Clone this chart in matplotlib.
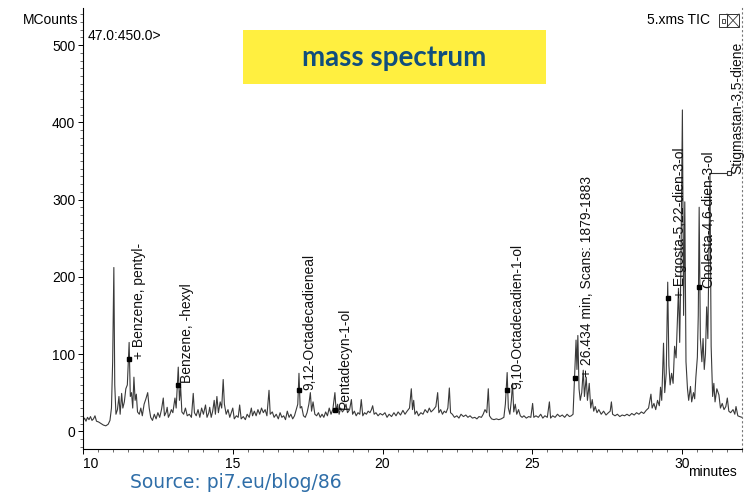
import matplotlib
matplotlib.use('Agg')
import matplotlib.pyplot as plt
from matplotlib.ticker import MultipleLocator
from matplotlib.patches import Rectangle

plt.rcParams['font.family'] = ['Liberation Sans', 'DejaVu Sans']

# TIC trace (retention time in minutes, MCounts)
rt = [10.00, 10.05, 10.10, 10.15, 10.20, 10.25, 10.30, 10.35, 10.40, 10.45,
      10.52, 10.60, 10.68, 10.76, 10.84, 10.90, 10.95, 10.99, 11.03, 11.06,
      11.10, 11.15, 11.20, 11.24, 11.29, 11.33, 11.38, 11.43, 11.48, 11.54,
      11.58, 11.62, 11.66, 11.70, 11.74, 11.78, 11.82, 11.88, 11.93, 11.98,
      12.04, 12.10, 12.16, 12.21, 12.26, 12.32, 12.38, 12.44, 12.50, 12.56,
      12.62, 12.68, 12.72, 12.78, 12.81, 12.85, 12.90, 12.95, 13.00, 13.07,
      13.11, 13.18, 13.22, 13.26, 13.30, 13.36, 13.42, 13.48, 13.55, 13.62,
      13.68, 13.72, 13.78, 13.84, 13.90, 13.96, 14.02, 14.09, 14.14, 14.20,
      14.23, 14.28, 14.33, 14.38, 14.42, 14.47, 14.52, 14.58, 14.63, 14.68,
      14.72, 14.78, 14.84, 14.90, 14.95, 15.00, 15.05, 15.12, 15.18, 15.23,
      15.28, 15.35, 15.42, 15.48, 15.55, 15.62, 15.66, 15.72, 15.78, 15.84,
      15.90, 15.96, 16.02, 16.08, 16.14, 16.21, 16.25, 16.32, 16.38, 16.45,
      16.52, 16.58, 16.64, 16.70, 16.76, 16.82, 16.88, 16.94, 17.00, 17.06,
      17.12, 17.17, 17.21, 17.25, 17.30, 17.36, 17.42, 17.48, 17.54, 17.59,
      17.63, 17.68, 17.74, 17.80, 17.86, 17.92, 17.98, 18.04, 18.10, 18.16,
      18.22, 18.28, 18.34, 18.41, 18.45, 18.50, 18.55, 18.60, 18.66, 18.72,
      18.78, 18.83, 18.90, 18.96, 19.00, 19.06, 19.12, 19.18, 19.24, 19.29,
      19.34, 19.40, 19.46, 19.52, 19.58, 19.63, 19.67, 19.72, 19.78, 19.85,
      19.92, 20.00, 20.08, 20.15, 20.22, 20.30, 20.38, 20.45, 20.52, 20.60,
      20.68, 20.75, 20.82, 20.90, 20.96, 21.00, 21.04, 21.08, 21.14, 21.20,
      21.28, 21.35, 21.42, 21.50, 21.56, 21.62, 21.70, 21.78, 21.84, 21.88,
      21.94, 22.00, 22.06, 22.12, 22.18, 22.23, 22.27, 22.33, 22.40, 22.48,
      22.55, 22.62, 22.70, 22.78, 22.85, 22.92, 23.00, 23.08, 23.15, 23.22,
      23.30, 23.36, 23.42, 23.48, 23.53, 23.57, 23.64, 23.72, 23.80, 23.88,
      23.96, 24.05, 24.10, 24.16, 24.20, 24.25, 24.30, 24.34, 24.38, 24.43,
      24.48, 24.54, 24.60, 24.66, 24.72, 24.80, 24.88, 24.95, 25.01, 25.05,
      25.12, 25.20, 25.28, 25.35, 25.42, 25.50, 25.57, 25.61, 25.68, 25.76,
      25.84, 25.92, 26.00, 26.08, 26.16, 26.24, 26.30, 26.36, 26.40, 26.46,
      26.49, 26.52, 26.56, 26.60, 26.65, 26.70, 26.74, 26.80, 26.84, 26.90,
      26.95, 27.00, 27.05, 27.10, 27.16, 27.22, 27.30, 27.38, 27.46, 27.54,
      27.60, 27.64, 27.68, 27.76, 27.84, 27.92, 28.00, 28.08, 28.16, 28.24,
      28.32, 28.40, 28.48, 28.56, 28.64, 28.72, 28.80, 28.88, 28.96, 29.00,
      29.06, 29.12, 29.18, 29.24, 29.28, 29.32, 29.38, 29.42, 29.47, 29.52,
      29.56, 29.60, 29.65, 29.70, 29.75, 29.80, 29.85, 29.88, 29.92, 29.96,
      30.01, 30.05, 30.09, 30.13, 30.18, 30.22, 30.28, 30.32, 30.38, 30.42,
      30.46, 30.51, 30.54, 30.57, 30.61, 30.66, 30.70, 30.74, 30.78, 30.82,
      30.86, 30.93, 30.97, 31.02, 31.06, 31.10, 31.16, 31.23, 31.28, 31.34,
      31.40, 31.46, 31.51, 31.56, 31.62, 31.70, 31.76, 31.80, 31.86, 31.92,
      32.00]
tic = [14, 17, 13, 18, 15, 19, 14, 16, 20, 13,
       12, 10, 8, 7, 9, 14, 30, 90, 212, 60,
       22, 28, 45, 22, 49, 30, 38, 55, 60, 115,
       45, 50, 30, 70, 40, 48, 25, 22, 30, 20,
       35, 42, 50, 30, 18, 14, 22, 16, 24, 18,
       28, 43, 20, 25, 31, 18, 22, 28, 24, 43,
       30, 83, 40, 57, 25, 22, 30, 20, 22, 18,
       49, 24, 20, 28, 18, 30, 22, 34, 18, 24,
       31, 18, 26, 40, 22, 45, 24, 38, 30, 67,
       35, 22, 28, 18, 24, 30, 16, 20, 18, 34,
       16, 19, 15, 22, 18, 30, 20, 26, 20, 28,
       22, 30, 24, 28, 20, 53, 22, 25, 18, 22,
       16, 24, 18, 20, 15, 26, 18, 22, 16, 20,
       28, 35, 75, 30, 32, 20, 18, 24, 35, 50,
       26, 38, 22, 20, 24, 18, 22, 18, 25, 20,
       30, 22, 28, 50, 26, 35, 22, 30, 25, 28,
       35, 24, 28, 41, 22, 26, 20, 24, 22, 41,
       20, 24, 22, 26, 24, 28, 33, 22, 24, 20,
       23, 21, 24, 18, 22, 19, 24, 20, 25, 21,
       27, 22, 26, 30, 55, 28, 40, 22, 26, 20,
       24, 22, 28, 24, 30, 25, 28, 32, 50, 24,
       28, 22, 26, 24, 30, 56, 24, 22, 18, 20,
       17, 22, 19, 21, 18, 20, 17, 18, 16, 19,
       18, 22, 28, 24, 55, 20, 16, 15, 16, 15,
       16, 18, 35, 76, 30, 22, 40, 62, 25, 35,
       22, 28, 20, 18, 20, 17, 19, 18, 36, 18,
       20, 18, 22, 17, 20, 18, 38, 17, 20, 18,
       22, 19, 21, 18, 22, 19, 20, 22, 60, 118,
       80, 124, 55, 40, 50, 79, 45, 70, 40, 62,
       30, 41, 26, 32, 24, 28, 22, 26, 21, 24,
       26, 38, 22, 20, 22, 19, 21, 20, 22, 20,
       23, 21, 24, 22, 25, 23, 27, 30, 48, 30,
       36, 28, 40, 33, 57, 40, 114, 50, 75, 193,
       85, 60, 75, 62, 110, 95, 150, 185, 115, 210,
       416, 150, 297, 90, 55, 40, 58, 38, 50, 42,
       70, 96, 150, 290, 120, 90, 120, 80, 100, 161,
       120, 334, 110, 45, 62, 38, 55, 47, 30, 36,
       28, 32, 43, 26, 24, 28, 22, 32, 20, 19,
       18]

# peak identifications
label_names = ['+ Benzene, pentyl-', 'Benzene, -hexyl', '9,12-Octadecadieneal',
               'Pentadecyn-1-ol', '9,10-Octadecadien-1-ol',
               '+ 26.434 min, Scans: 1879-1883', '+ Ergosta-5,22-dien-3-ol',
               'Cholesta-4,6-dien-3-ol', 'Stigmastan-3,5-diene']
label_rt = [11.87, 13.48, 17.57, 18.75, 24.50, 26.82, 29.93, 30.87, 31.83]
label_y = [94, 62, 54, 29, 55, 70, 173, 186, 333]
marker_rt = [11.54, 13.18, 17.21, 18.41, 24.16, 26.43, 29.54, 30.57]
marker_y = [94, 60, 53, 28, 53, 69, 173, 187]

W, H = 746, 496
fig = plt.figure(figsize=(W / 100, H / 100), dpi=100)
ax = fig.add_axes([83 / W, 47 / H, (742 - 83) / W, (449 - 8) / H])

ax.plot(rt, tic, color='#3a3a3a', lw=0.8)
ax.plot(marker_rt, marker_y, 's', ms=3.2, color='black')

for name, x, y in zip(label_names, label_rt, label_y):
    ax.text(x, y, name, rotation=90, ha='center', va='bottom', fontsize=10,
            color='#111111')

# leader to the last label
ax.plot([30.93, 31.55], [334, 334], color='#333333', lw=0.8)
ax.plot([31.57], [334], 's', ms=3.2, mfc='white', mec='#333333', mew=0.8)

ax.set_xlim(10, 32)
ax.set_ylim(-23, 548)
ax.xaxis.set_minor_locator(MultipleLocator(0.5))
ax.yaxis.set_minor_locator(MultipleLocator(10))
ax.set_yticks([0, 100, 200, 300, 400, 500])
ax.set_xticks([10, 15, 20, 25, 30])
ax.set_xticklabels(['10', '15', '20', '25', '30'])
ax.get_xticklabels()[0].set_horizontalalignment('left')
ax.tick_params(which='major', length=3.5, width=0.7, labelsize=10, pad=2)
ax.tick_params(which='minor', length=2, width=0.6, color='#555555')
ax.spines['top'].set_visible(False)
ax.spines['right'].set_linestyle((0, (1, 3)))
ax.spines['right'].set_color('#777777')
ax.spines['left'].set_linewidth(0.8)
ax.spines['bottom'].set_linewidth(0.8)

fig.text(78 / W, 1 - 20 / H, 'MCounts', ha='right', va='center', fontsize=10)
fig.text(88 / W, 1 - 36 / H, '47.0:450.0>', ha='left', va='center', fontsize=10)
fig.text(737 / W, 1 - 472 / H, 'minutes', ha='right', va='center', fontsize=10)
fig.text(710 / W, 1 - 20 / H, '5.xms TIC', ha='right', va='center', fontsize=10)

# little window buttons at the top right
fig.add_artist(Rectangle((719 / W, 1 - 27 / H), 8 / W, 13 / H, transform=fig.transFigure,
                         fill=False, lw=0.7, ec='#333333'))
fig.add_artist(Rectangle((721.5 / W, 1 - 22.5 / H), 3.5 / W, 4 / H, transform=fig.transFigure,
                         fill=False, lw=0.6, ec='#333333'))
fig.add_artist(Rectangle((727 / W, 1 - 27 / H), 12 / W, 13 / H, transform=fig.transFigure,
                         fill=False, lw=0.7, ec='#333333'))
fig.add_artist(plt.Line2D([727 / W, 739 / W], [1 - 27 / H, 1 - 14 / H], transform=fig.transFigure,
                          lw=0.6, color='#333333'))
fig.add_artist(plt.Line2D([727 / W, 739 / W], [1 - 14 / H, 1 - 27 / H], transform=fig.transFigure,
                          lw=0.6, color='#333333'))

# yellow title box
fig.add_artist(Rectangle((243 / W, 1 - 84 / H), (546 - 243) / W, (84 - 30) / H,
                         transform=fig.transFigure, color='#ffef40', lw=0))
fig.text(394 / W, 1 - 58 / H, 'mass spectrum', ha='center', va='center', fontsize=20,
         fontweight='bold', color='#104e7d', family=['Lato', 'DejaVu Sans'])

fig.text(130 / W, 1 - 483 / H, 'Source: pi7.eu/blog/86', ha='left', va='center', fontsize=13.5,
         color='#2f6ea8', family=['DejaVu Sans'])

fig.savefig('out.png', dpi=100)
